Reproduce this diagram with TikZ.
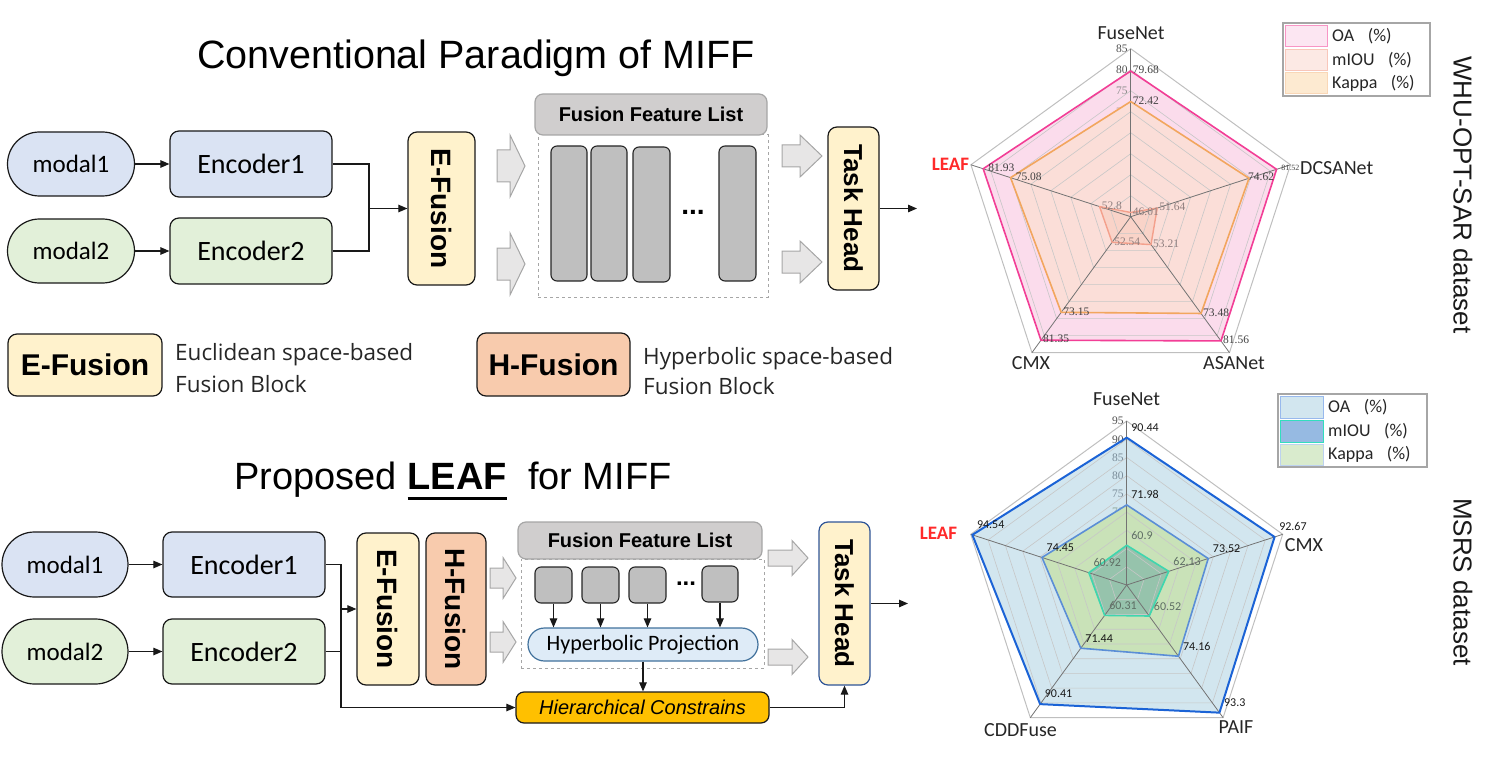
\documentclass[tikz,border=0pt]{standalone}
\usepackage{fontspec}
\usepackage{graphicx}
\setmainfont{Liberation Sans}
\newfontfamily\carl{Carlito}
\newfontfamily\osans{Open Sans}
\newfontfamily\tnr{Liberation Serif}
\usetikzlibrary{shapes.misc,arrows.meta,calc}
\newcommand\fs[2]{\fontsize{#1}{#2}\selectfont}
\definecolor{blueA}{HTML}{DAE3F3}
\definecolor{greenA}{HTML}{E2F0D9}
\definecolor{yellowA}{HTML}{FFF2CC}
\definecolor{orangeA}{HTML}{F8CBAD}
\definecolor{grayH}{HTML}{D0CECE}
\definecolor{grayB}{HTML}{BFBFBF}
\definecolor{grayArr}{HTML}{E7E6E6}
\definecolor{grayLine}{HTML}{A6A6A6}
\definecolor{hpblue}{HTML}{DEEBF7}
\definecolor{hpborder}{HTML}{41719C}
\definecolor{goldA}{HTML}{FFC000}
\definecolor{thborder}{HTML}{2F5597}
\definecolor{txtdark}{HTML}{262626}
\definecolor{leafred}{HTML}{FF2A2A}
% top radar
\definecolor{oaTopF}{HTML}{FBDCEC}
\definecolor{kaTopF}{HTML}{FBDED8}
\definecolor{miTopF}{HTML}{F9D3C8}
\definecolor{oaTopL}{HTML}{F23E96}
\definecolor{kaTopL}{HTML}{F2A65E}
\definecolor{miTopL}{HTML}{F4A08C}
\definecolor{tkD}{HTML}{505050}
\definecolor{tkM}{HTML}{8C8C8C}
\definecolor{tkL}{HTML}{C4AEAE}
\definecolor{vlD}{HTML}{404040}
\definecolor{vlL}{HTML}{8F7F7F}
% bottom radar
\definecolor{oaBotF}{HTML}{D2E6EF}
\definecolor{kaBotF}{HTML}{C9E2B8}
\definecolor{miBotF}{HTML}{96C3AC}
\definecolor{oaBotL}{HTML}{1B63D6}
\definecolor{kaBotL}{HTML}{5B8ED6}
\definecolor{miBotL}{HTML}{3FD6AE}
\definecolor{tbD}{HTML}{505050}
\definecolor{tbM}{HTML}{7A8C99}
\definecolor{tbL}{HTML}{8FA89C}
\definecolor{vbL}{HTML}{5E6E64}

\newcommand\penta[5]{(90:{(#1-\rb)*\rs}) -- (18:{(#2-\rb)*\rs}) -- (-54:{(#3-\rb)*\rs}) -- (-126:{(#4-\rb)*\rs}) -- (162:{(#5-\rb)*\rs}) -- cycle}
\newcommand\vlab[4][]{\node[vlabel,anchor=west,#1] (#4) at ($(#2:{(#3-\rb)*\rs})+(\ldx,\ldy)$) {#3};}
\newcommand\barrow[6]{\draw[barr] (#1,{#4-#5/2}) -- (#2,{#4-#5/2}) -- (#2,{#4-#6/2}) -- (#3,#4) -- (#2,{#4+#6/2}) -- (#2,{#4+#5/2}) -- (#1,{#4+#5/2}) -- cycle;}
\newcommand\leafu{{\setbox0\hbox{\bfseries LEAF}\rlap{\rule[-10pt]{\wd0}{2.6pt}}\box0}}

\begin{document}
\begin{tikzpicture}[x=1pt,y=-1pt,
  title/.style={font=\fs{38}{44}, inner sep=0pt},
  bx/.style={draw=black!90, line width=1.2pt, rounded corners=9pt, inner sep=0pt, align=center},
  modalbox/.style={rounded rectangle, draw=black!90, line width=1.2pt, minimum width=127pt, minimum height=64pt, inner sep=0pt, font=\carl\fs{25}{30}},
  encbox/.style={bx, minimum width=162pt, minimum height=66pt, font=\carl\fs{28}{32}},
  fusbox/.style={bx, font=\bfseries\fs{28}{32}},
  header/.style={bx, draw=grayLine, fill=grayH, rounded corners=8pt, font=\bfseries\fs{20}{24}},
  dbox/.style={draw=grayLine, dashed, line width=1pt, inner sep=0pt},
  bar/.style={draw=black!85, fill=grayB, line width=1.1pt, rounded corners=6pt, inner sep=0pt},
  dotsn/.style={font=\bfseries\fs{28}{30}, inner sep=0pt},
  barr/.style={draw=grayLine, fill=grayArr, line width=1pt, line join=miter},
  plain/.style={line width=1.1pt, draw=black!90},
  conn/.style={line width=1.1pt, draw=black!90, -{Triangle[length=9pt,width=7.5pt]}},
  desc/.style={font=\osans\fs{22.5}{31}, text=txtdark, inner sep=0pt, anchor=base west},
  axlab/.style={font=\carl\fs{20}{24}, text=txtdark, inner sep=0pt},
  leaflab/.style={font=\carl\bfseries\fs{19}{22}, text=leafred, inner sep=0pt},
  legtxt/.style={font=\carl\fs{18}{22}, text=txtdark, inner sep=0pt, anchor=west},
  legframe/.style={draw=grayLine, line width=1.1pt, fill=white},
  dset/.style={font=\fs{26}{30}, text=black!90, inner sep=0pt},
  ticklab/.style={font=\tnr\fs{11.5}{13}, inner sep=0pt, anchor=east}
]
\useasboundingbox (0,0) rectangle (1491,762);

% ================= TOP: conventional paradigm =================
\node[title, font=\fs{39.5}{44}] (t1) at (476,58) {Conventional Paradigm of MIFF};

\node[modalbox, fill=blueA] (m1) at (71,164) {modal1};
\node[modalbox, fill=greenA] (m2) at (71,251) {modal2};
\node[encbox, fill=blueA] (e1) at (251,164) {Encoder1};
\node[encbox, fill=greenA] (e2) at (251,251) {Encoder2};
\node[fusbox, fill=yellowA, minimum width=67pt, minimum height=153pt] (ef1) at (441.5,208.5) {\rotatebox{-90}{E-Fusion}};
\coordinate (j1) at (369,208.5);
\draw[conn] (m1.east) -- (e1.west);
\draw[conn] (m2.east) -- (e2.west);
\draw[plain] (e1.east) -| (j1);
\draw[plain] (e2.east) -| (j1);
\draw[conn] (j1) -- (ef1.west);

\barrow{497}{510}{525}{166}{32}{62}
\barrow{497}{510}{525}{264}{32}{62}

\node[dbox, minimum width=230pt, minimum height=162pt] (db1) at (653,216) {};
\node[header, minimum width=232pt, minimum height=41pt] (fl1) at (651,114.5) {Fusion Feature List};
\node[bar, minimum width=36pt, minimum height=135pt] (b1) at (569,213.5) {};
\node[bar, minimum width=36pt, minimum height=135pt] (b2) at (609,213.5) {};
\node[bar, minimum width=37pt, minimum height=135pt] (b3) at (651.5,214.5) {};
\node[bar, minimum width=37pt, minimum height=135pt] (b4) at (737.5,213.5) {};
\node[dotsn] (d1) at (693,212) {...};

\barrow{782}{800}{822}{156}{22}{42}
\barrow{782}{800}{822}{262}{22}{42}

\node[fusbox, fill=yellowA, minimum width=51pt, minimum height=163pt, font=\bfseries\fs{26}{30}] (th1) at (853.5,208.5) {\rotatebox{-90}{Task Head}};
\coordinate (o1) at (917,208.5);
\draw[conn] (th1.east) -- (o1);

% legend
\node[fusbox, fill=yellowA, minimum width=154pt, minimum height=62pt, font=\bfseries\fs{30}{34}] (lgE) at (85,365) {E-Fusion};
\node[desc] (lgE1) at (175,360) {Euclidean space-based};
\node[desc] (lgE2) at (175,392) {Fusion Block};
\node[fusbox, fill=orangeA, minimum width=153pt, minimum height=63pt, font=\bfseries\fs{30}{34}] (lgH) at (553.5,364.5) {H-Fusion};
\node[desc] (lgH1) at (643,364) {Hyperbolic space-based};
\node[desc] (lgH2) at (643,394) {Fusion Block};

% ================= BOTTOM: proposed LEAF =================
\node[title] (t2) at (453,481) {Proposed \leafu\ \ for MIFF};

\node[modalbox, fill=blueA, minimum width=126pt, minimum height=65pt] (m1b) at (65,564.5) {modal1};
\node[modalbox, fill=greenA, minimum width=126pt, minimum height=65pt] (m2b) at (65,651.5) {modal2};
\node[encbox, fill=blueA, minimum height=65pt] (e1b) at (244,564.5) {Encoder1};
\node[encbox, fill=greenA, minimum height=65pt] (e2b) at (244,651.5) {Encoder2};
\node[fusbox, fill=yellowA, minimum width=62pt, minimum height=152pt] (ef2) at (388,609) {\rotatebox{-90}{E-Fusion}};
\node[fusbox, fill=orangeA, minimum width=60pt, minimum height=152pt] (hf2) at (456,609) {\rotatebox{-90}{H-Fusion}};
\coordinate (j2) at (341,609);
\coordinate (j3) at (341,707.5);
\draw[conn] (m1b.east) -- (e1b.west);
\draw[conn] (m2b.east) -- (e2b.west);
\draw[plain] (e1b.east) -| (j2);
\draw[plain] (e2b.east) -| (j2);
\draw[conn] (j2) -- (ef2.west);

\barrow{490}{503}{516}{578}{20}{41}
\barrow{490}{503}{516}{642}{20}{41}

\node[dbox, minimum width=243pt, minimum height=109pt] (db2) at (642.5,613.5) {};
\node[header, minimum width=244pt, minimum height=37pt] (fl2) at (640,540.5) {Fusion Feature List};
\node[bar, minimum width=37pt, minimum height=36pt] (s1) at (553.5,585) {};
\node[bar, minimum width=37pt, minimum height=36pt] (s2) at (600.5,585) {};
\node[bar, minimum width=37pt, minimum height=36pt] (s3) at (647.5,585) {};
\node[bar, minimum width=36pt, minimum height=36pt] (s4) at (720,584) {};
\node[dotsn, font=\bfseries\fs{24}{26}] (d2) at (686,584) {...};
\node[rounded rectangle, draw=hpborder, fill=hpblue, line width=1.2pt, minimum width=230pt, minimum height=33pt, inner sep=0pt, font=\carl\fs{22}{26}] (hp) at (643,644.5) {Hyperbolic Projection};
\foreach \s in {s1,s2,s3,s4} \draw[conn] (\s.south) -- (\s.south |- hp.north);
\node[bx, fill=goldA, rounded corners=8pt, minimum width=253pt, minimum height=31pt, font=\itshape\fs{20}{24}] (hc) at (642.5,707.5) {Hierarchical Constrains};
\draw[conn] (hp.south) -- (hp.south |- hc.north);
\draw[conn] (e2b.east) -| (j3) -- (hc.west);

\barrow{768}{792}{808}{558}{16}{35}
\barrow{768}{792}{808}{657}{16}{35}

\node[fusbox, draw=thborder, fill=yellowA, minimum width=51pt, minimum height=163pt, font=\bfseries\fs{26}{30}] (th2) at (844.5,603.5) {\rotatebox{-90}{Task Head}};
\draw[conn] (hc.east) -| (th2.south);
\coordinate (o2) at (908,603.5);
\draw[conn] (th2.east) -- (o2);

% ================= TOP RADAR =================
\begin{scope}[shift={(1130.7,216.7)}, x=1pt, y=1pt,
  vlabel/.style={font=\tnr\fs{11.5}{13}, text=vlD, inner sep=0pt}]
\def\rb{45}\def\rs{4.2}\def\ldx{2}\def\ldy{1}
\fill[oaTopF] \penta{79.68}{81.52}{81.56}{81.35}{81.93};
\foreach \v/\c in {85/tkD,80/tkD,75/tkM}
  \node[ticklab, text=\c] (tkA\v) at ($(90:{(\v-\rb)*\rs})+(-3,0)$) {\v};
\foreach \v/\c in {70/tkL,65/tkL,60/tkL,55/tkL,50/tkL,45/tkL}
  \node[ticklab, text=\c] (tkA\v) at ($(90:{(\v-\rb)*\rs})+(-3,0)$) {\v};
\fill[kaTopF] \penta{72.42}{74.62}{73.48}{73.15}{75.08};
\fill[miTopF] \penta{46.01}{51.64}{53.21}{52.54}{52.8};
\foreach \l in {50,55,...,80} \draw[black!22, line width=0.6pt] \penta{\l}{\l}{\l}{\l}{\l};
\draw[black!25, line width=1pt] \penta{85}{85}{85}{85}{85};
\foreach \a in {90,18,-54,-126,162} \draw[black!55, line width=0.8pt] (0,0) -- (\a:{(85-\rb)*\rs});
\draw[miTopL, line width=1.4pt, line join=round] \penta{46.01}{51.64}{53.21}{52.54}{52.8};
\draw[kaTopL, line width=1.6pt, line join=round] \penta{72.42}{74.62}{73.48}{73.15}{75.08};
\draw[oaTopL, line width=1.6pt, line join=round] \penta{79.68}{81.52}{81.56}{81.35}{81.93};
\vlab{90}{79.68}{vA1}
\vlab[font=\tnr\fs{8}{9}, xshift=2.5pt]{18}{81.52}{vA2}
\vlab{-54}{81.56}{vA3}
\vlab{-126}{81.35}{vA4}
\vlab[xshift=3pt]{162}{81.93}{vA5}
\vlab{90}{72.42}{vA6}
\vlab[xshift=-3pt]{18}{74.62}{vA7}
\vlab{-54}{73.48}{vA8}
\vlab{-126}{73.15}{vA9}
\vlab[xshift=3pt]{162}{75.08}{vA10}
\vlab[text=vlL]{90}{46.01}{vA11}
\vlab[text=vlL]{18}{51.64}{vA12}
\vlab[text=vlL]{-54}{53.21}{vA13}
\vlab[text=vlL]{-126}{52.54}{vA14}
\vlab[text=vlL]{162}{52.8}{vA15}
\end{scope}
\node[axlab] (fnA) at (1131,33) {FuseNet};
\node[axlab, anchor=west] (dcA) at (1300,168) {DCSANet};
\node[axlab] (asA) at (1234,363) {ASANet};
\node[axlab] (cmA) at (1031,363) {CMX};
\node[leaflab] (lfA) at (950.5,164) {LEAF};
% legend top
\draw[legframe] (1283,23) rectangle (1430,96);
\draw[draw=oaTopL!55, fill=oaTopF!70!white, line width=1pt] (1285,25.5) rectangle (1327,46.5);
\draw[draw=miTopL!60, fill=miTopF!50!white, line width=1pt] (1285,49.5) rectangle (1327,70.5);
\draw[draw=kaTopL!45, fill=kaTopF!40!yellowA, line width=1pt] (1285,72.5) rectangle (1327,93.5);
\node[legtxt] (lA1) at (1332,36) {OA\hspace{0.75em}(\%)};
\node[legtxt] (lA2) at (1332,60) {mIOU\hspace{0.75em}(\%)};
\node[legtxt] (lA3) at (1332,83) {Kappa\hspace{0.75em}(\%)};
\node[dset] (ds1) at (1463,195) {\rotatebox{-90}{WHU-OPT-SAR dataset}};

% ================= BOTTOM RADAR =================
\begin{scope}[shift={(1126.7,585)}, x=1pt, y=1pt,
  vlabel/.style={font=\carl\fs{12}{14}, text=black!90, inner sep=0pt}]
\def\rb{50}\def\rs{3.644}\def\ldx{4.5}\def\ldy{10}
\fill[oaBotF] \penta{90.44}{92.67}{93.3}{90.41}{94.54};
\foreach \v/\c in {95/tbD,90/tbD,85/tbM,80/tbM,75/tbM}
  \node[ticklab, text=\c] (tkB\v) at ($(90:{(\v-\rb)*\rs})+(-3,0)$) {\v};
\foreach \v/\c in {70/tbL,65/tbL,60/tbL,55/tbL,50/tbL}
  \node[ticklab, text=\c] (tkB\v) at ($(90:{(\v-\rb)*\rs})+(-3,0)$) {\v};
\fill[kaBotF] \penta{71.98}{73.52}{74.16}{71.44}{74.45};
\fill[miBotF] \penta{60.9}{62.13}{60.52}{60.31}{60.92};
\foreach \l in {55,60,...,90} \draw[black!22, line width=0.6pt] \penta{\l}{\l}{\l}{\l}{\l};
\draw[black!25, line width=1pt] \penta{95}{95}{95}{95}{95};
\foreach \a in {90,18,-54,-126,162} \draw[black!55, line width=0.8pt] (0,0) -- (\a:{(95-\rb)*\rs});
\draw[miBotL, line width=1.6pt, line join=round] \penta{60.9}{62.13}{60.52}{60.31}{60.92};
\draw[kaBotL, line width=1.6pt, line join=round] \penta{71.98}{73.52}{74.16}{71.44}{74.45};
\draw[oaBotL, line width=2pt, line join=round] \penta{90.44}{92.67}{93.3}{90.41}{94.54};
\vlab{90}{90.44}{vB1}
\vlab{18}{92.67}{vB2}
\vlab{-54}{93.3}{vB3}
\vlab{-126}{90.41}{vB4}
\vlab{162}{94.54}{vB5}
\vlab{90}{71.98}{vB6}
\vlab{18}{73.52}{vB7}
\vlab{-54}{74.16}{vB8}
\vlab{-126}{71.44}{vB9}
\vlab{162}{74.45}{vB10}
\vlab[text=vbL]{90}{60.9}{vB11}
\vlab[text=vbL]{18}{62.13}{vB12}
\vlab[text=vbL]{-54}{60.52}{vB13}
\vlab[text=vbL]{-126}{60.31}{vB14}
\vlab[text=vbL]{162}{60.92}{vB15}
\end{scope}
\node[axlab] (fnB) at (1126.5,399) {FuseNet};
\node[axlab] (cmB) at (1304,545) {CMX};
\node[axlab] (paB) at (1236,727) {PAIF};
\node[axlab] (cdB) at (1020.5,730) {CDDFuse};
\node[leaflab] (lfB) at (938.5,533.5) {LEAF};
% legend bottom
\draw[legframe] (1278,394) rectangle (1427,467);
\draw[draw=oaBotL!45, fill=oaBotF, line width=1pt] (1280,396.5) rectangle (1323,418);
\draw[draw=miBotL!80!cyan, fill=kaBotL!50!oaBotF, line width=1pt] (1280,420.5) rectangle (1323,442);
\draw[draw=kaBotL!40, fill=kaBotF!70!white, line width=1pt] (1280,444) rectangle (1323,465.5);
\node[legtxt] (lB1) at (1328,407) {OA\hspace{0.75em}(\%)};
\node[legtxt] (lB2) at (1328,431) {mIOU\hspace{0.75em}(\%)};
\node[legtxt] (lB3) at (1328,454) {Kappa\hspace{0.75em}(\%)};
\node[dset] (ds2) at (1463,582) {\rotatebox{-90}{MSRS dataset}};
\end{tikzpicture}
\end{document}
